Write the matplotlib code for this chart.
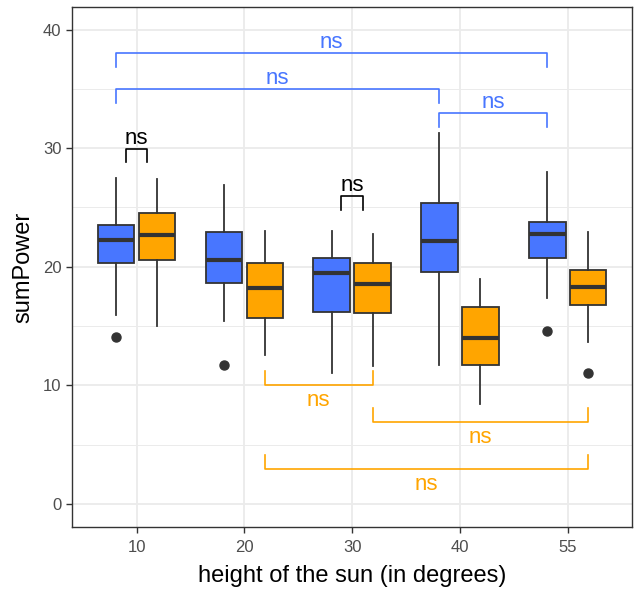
import matplotlib
matplotlib.use("Agg")
import matplotlib.pyplot as plt
from matplotlib.ticker import MultipleLocator

plt.rcParams['font.family'] = ['Liberation Sans', 'DejaVu Sans']

# kategorie osi x
kategorie = ["10", "20", "30", "40", "55"]

# statystyki pudełek - grupa niebieska
nieb_whislo = [15.9, 15.4, 11.0, 11.7, 17.4]
nieb_q1 = [20.35, 18.65, 16.15, 19.6, 20.75]
nieb_med = [22.3, 20.6, 19.5, 22.2, 22.8]
nieb_q3 = [23.5, 22.9, 20.7, 25.35, 23.8]
nieb_whishi = [27.5, 26.9, 23.0, 31.3, 28.0]
nieb_fliers = [[14.1], [11.7], [], [], [14.6]]

# statystyki pudełek - grupa pomarańczowa
pom_whislo = [15.0, 12.55, 11.6, 8.45, 13.65]
pom_q1 = [20.6, 15.7, 16.1, 11.75, 16.8]
pom_med = [22.7, 18.2, 18.55, 14.0, 18.3]
pom_q3 = [24.55, 20.3, 20.3, 16.6, 19.75]
pom_whishi = [27.4, 23.0, 22.75, 19.0, 22.9]
pom_fliers = [[], [], [], [], [11.05]]

# porównania (indeksy kategorii, poziom y)
nieb_pary = [(0, 4, 38.03), (0, 3, 35.0), (3, 4, 32.97)]
pom_pary = [(1, 2, 10.02), (2, 4, 6.95), (1, 4, 2.98)]
czarne = [(0, 29.93), (2, 25.93)]

NIEBIESKI = "#4876FF"
POMARANCZ = "#FFA500"
CIEMNY = "#333333"
przes = 0.19
szer = 0.34


def statystyki(whislo, q1, med, q3, whishi, fliers):
    return [dict(whislo=a, q1=b, med=c, q3=d, whishi=e, fliers=f)
            for a, b, c, d, e, f in zip(whislo, q1, med, q3, whishi, fliers)]


fig = plt.figure(figsize=(6.4, 5.91), dpi=100)
ax = fig.add_axes([0.1125, 0.1078, 0.8755, 0.881])

pozycje = list(range(len(kategorie)))
for stat, kolor, dx in [
    (statystyki(nieb_whislo, nieb_q1, nieb_med, nieb_q3, nieb_whishi, nieb_fliers), NIEBIESKI, -przes),
    (statystyki(pom_whislo, pom_q1, pom_med, pom_q3, pom_whishi, pom_fliers), POMARANCZ, przes),
]:
    ax.bxp(stat, positions=[p + dx for p in pozycje], widths=szer, patch_artist=True,
           showcaps=False,
           boxprops=dict(facecolor=kolor, edgecolor=CIEMNY, linewidth=1.3),
           medianprops=dict(color=CIEMNY, linewidth=3.0, solid_capstyle='butt'),
           whiskerprops=dict(color=CIEMNY, linewidth=1.3),
           flierprops=dict(marker='o', markerfacecolor=CIEMNY, markeredgecolor=CIEMNY,
                           markersize=6.5),
           zorder=3)

# niebieskie klamry (nad pudełkami)
for a, b, y in nieb_pary:
    x1, x2 = a - przes, b - przes
    ax.plot([x1, x1, x2, x2], [y - 1.2, y, y, y - 1.2], color=NIEBIESKI, lw=1.2, zorder=4)
    ax.text((x1 + x2) / 2, y + 0.4, "ns", color=NIEBIESKI, fontsize=16,
            ha='center', va='baseline')

# pomarańczowe klamry (pod pudełkami)
for a, b, y in pom_pary:
    x1, x2 = a + przes, b + przes
    ax.plot([x1, x1, x2, x2], [y + 1.15, y, y, y + 1.15], color=POMARANCZ, lw=1.2, zorder=4)
    ax.text((x1 + x2) / 2, y - 1.8, "ns", color=POMARANCZ, fontsize=16,
            ha='center', va='baseline')

# czarne klamry w obrębie kategorii
for k, y in czarne:
    x1, x2 = k - 0.1, k + 0.1
    ax.plot([x1, x1, x2, x2], [y - 1.12, y, y, y - 1.12], color='black', lw=1.2, zorder=4)
    ax.text(k, y + 0.45, "ns", color='black', fontsize=16, ha='center', va='baseline')

ax.set_xlim(-0.6, 4.6)
ax.set_ylim(-1.97, 41.94)
ax.set_xticks(pozycje)
ax.set_xticklabels(kategorie)
ax.yaxis.set_major_locator(MultipleLocator(10))
ax.yaxis.set_minor_locator(MultipleLocator(5))

ax.grid(which='major', color='#EBEBEB', lw=1.3, zorder=0)
ax.grid(which='minor', axis='y', color='#EBEBEB', lw=0.7, zorder=0)
ax.set_axisbelow(True)
for s in ax.spines.values():
    s.set_color(CIEMNY)
    s.set_linewidth(1.0)
ax.tick_params(which='major', length=4, width=1.0, color=CIEMNY, labelcolor='#4D4D4D',
               labelsize=12)
ax.tick_params(axis='x', which='major', pad=5)
ax.tick_params(which='minor', length=0)

ax.set_xlabel("height of the sun (in degrees)", fontsize=17, color='black', labelpad=7.5)
ax.set_ylabel("sumPower", fontsize=17, color='black', labelpad=6)

fig.savefig("out.png", dpi=100)
